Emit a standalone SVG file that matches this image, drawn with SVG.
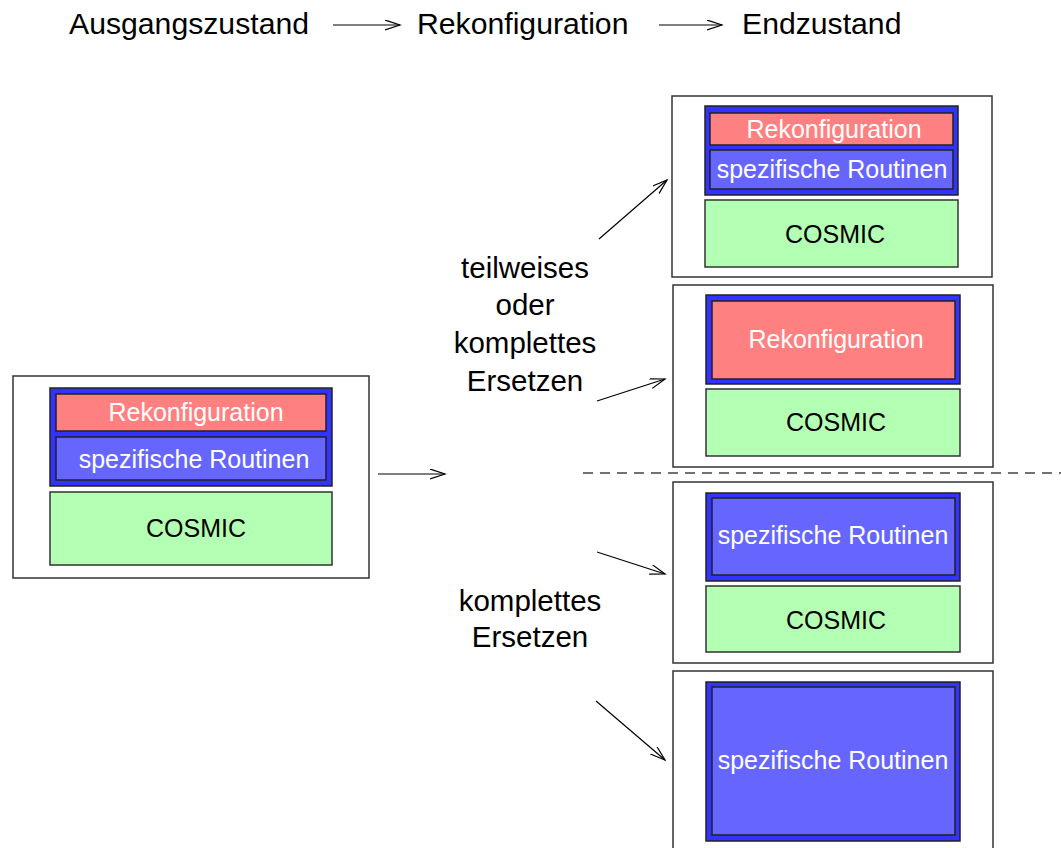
<svg xmlns="http://www.w3.org/2000/svg" width="1061" height="848" viewBox="0 0 1061 848">
<style>
text{font-family:"Liberation Sans",Arial,sans-serif;}
.hdr{font-size:30.2px;fill:#000;}
.lbl{font-size:29.5px;fill:#000;text-anchor:middle;}
.bt{font-size:25px;text-anchor:middle;fill:#fff;}
.bk{font-size:25px;text-anchor:middle;fill:#000;}
.outer{fill:#fff;stroke:#333;stroke-width:1.5;}
.frame{fill:#3333ff;stroke:#222;stroke-width:1.5;}
.red{fill:#ff8080;stroke:#222;stroke-width:1.5;}
.blue{fill:#6666ff;stroke:#222;stroke-width:1.5;}
.green{fill:#b3ffb3;stroke:#333;stroke-width:1.5;}
.arr{fill:none;stroke:#000;stroke-width:1.2;marker-end:url(#ah);}
</style>
<defs>
<marker id="ah" markerUnits="userSpaceOnUse" markerWidth="18" markerHeight="12" refX="15" refY="5" orient="auto">
<path d="M0,0 L15,5 L0,10" fill="none" stroke="#000" stroke-width="1.2"/>
</marker>
</defs>

<g id="header">
<text class="hdr" x="69" y="34">Ausgangszustand</text>
<text class="hdr" x="417" y="34">Rekonfiguration</text>
<text class="hdr" x="742" y="34">Endzustand</text>
</g>

<g id="label1">
<text class="lbl" x="525" y="278">teilweises</text>
<text class="lbl" x="525" y="315">oder</text>
<text class="lbl" x="525" y="353">komplettes</text>
<text class="lbl" x="525" y="391">Ersetzen</text>
</g>
<g id="label2">
<text class="lbl" x="530" y="611">komplettes</text>
<text class="lbl" x="530" y="647">Ersetzen</text>
</g>

<g id="start">
<rect class="outer" x="13" y="376" width="356" height="202"/>
<rect class="frame" x="50" y="388" width="282" height="98"/>
<rect class="red" x="56" y="394" width="270" height="37"/>
<text class="bt" x="196" y="421">Rekonfiguration</text>
<rect class="blue" x="56" y="437" width="270" height="43"/>
<text class="bt" x="194" y="468">spezifische Routinen</text>
<rect class="green" x="50" y="492" width="282" height="73"/>
<text class="bk" x="196" y="537">COSMIC</text>
</g>

<g id="end1">
<rect class="outer" x="672" y="96" width="320" height="181"/>
<rect class="frame" x="705" y="106" width="253" height="89"/>
<rect class="red" x="710" y="113" width="243" height="32"/>
<text class="bt" x="834" y="138">Rekonfiguration</text>
<rect class="blue" x="710" y="150" width="243" height="39"/>
<text class="bt" x="832" y="178">spezifische Routinen</text>
<rect class="green" x="705" y="200" width="253" height="67"/>
<text class="bk" x="835" y="243">COSMIC</text>
</g>

<g id="end2">
<rect class="outer" x="673" y="285" width="320" height="182"/>
<rect class="frame" x="706" y="295" width="254" height="89"/>
<rect class="red" x="712" y="301" width="243" height="78"/>
<text class="bt" x="836" y="348">Rekonfiguration</text>
<rect class="green" x="706" y="389" width="254" height="67"/>
<text class="bk" x="836" y="431">COSMIC</text>
</g>

<g id="end3">
<rect class="outer" x="673" y="482" width="320" height="181"/>
<rect class="frame" x="706" y="493" width="254" height="88"/>
<rect class="blue" x="712" y="498" width="243" height="77"/>
<text class="bt" x="833" y="544">spezifische Routinen</text>
<rect class="green" x="706" y="586" width="254" height="66"/>
<text class="bk" x="836" y="629">COSMIC</text>
</g>

<g id="end4">
<rect class="outer" x="673" y="671" width="320" height="190"/>
<rect class="frame" x="706" y="682" width="254" height="159"/>
<rect class="blue" x="712" y="687" width="243" height="148"/>
<text class="bt" x="833" y="769">spezifische Routinen</text>
</g>

<g id="connectors">
<line class="arr" x1="333" y1="25" x2="400" y2="25"/>
<line class="arr" x1="659" y1="25" x2="722" y2="25"/>
<line class="arr" x1="378" y1="474" x2="445" y2="474"/>
<line class="arr" x1="599" y1="239" x2="667" y2="180"/>
<line class="arr" x1="597" y1="401" x2="665" y2="379"/>
<line class="arr" x1="597" y1="552" x2="665" y2="574"/>
<line class="arr" x1="596" y1="701" x2="665" y2="760"/>
<line x1="583" y1="473" x2="1061" y2="473" stroke="#444" stroke-width="1.5" stroke-dasharray="10 7"/>
</g>
</svg>
